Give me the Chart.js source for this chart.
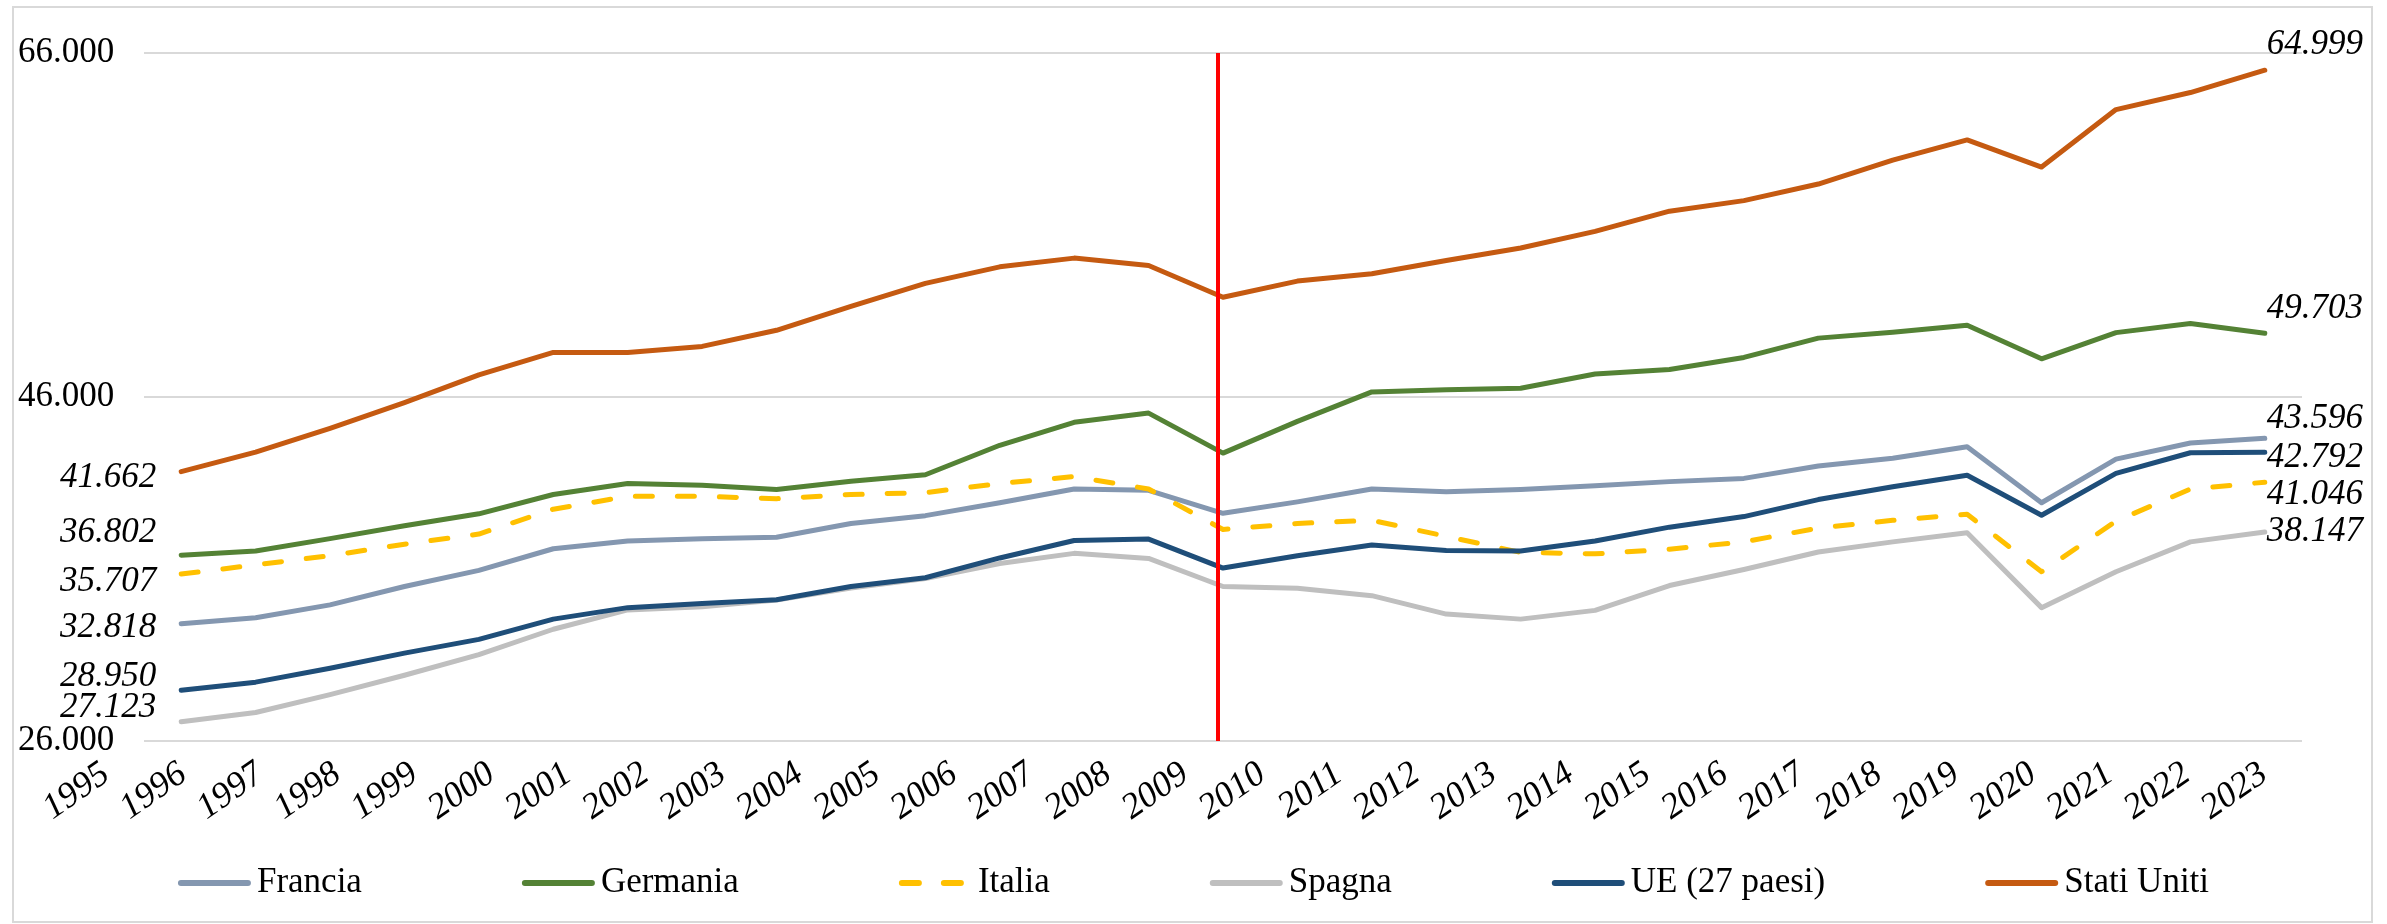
<!DOCTYPE html>
<html>
<head>
<meta charset="utf-8">
<script src="https://cdn.jsdelivr.net/npm/chart.js@4.4.1/dist/chart.umd.min.js"></script>
<style>
  html, body { margin: 0; padding: 0; background: #ffffff; }
  #wrap { width: 2387px; height: 924px; position: relative; }
</style>
</head>
<body>
<div id="wrap"><canvas id="c" width="2387" height="924"></canvas></div>
<script>
// ---------------- DATA ----------------
const years = ['1995','1996','1997','1998','1999','2000','2001','2002','2003','2004','2005','2006','2007','2008','2009','2010','2011','2012','2013','2014','2015','2016','2017','2018','2019','2020','2021','2022','2023'];
const seriesNames = ['Francia', 'Germania', 'Italia', 'Spagna', 'UE (27 paesi)', 'Stati Uniti'];
const francia    = [32818, 33166, 33914, 34984, 35920, 37176, 37631, 37765, 37845, 38647, 39102, 39850, 40652, 40572, 39240, 39904, 40652, 40492, 40626, 40840, 41080, 41267, 41989, 42444, 43112, 39850, 42390, 43326, 43596];
const germania   = [36802, 37043, 37765, 38513, 39209, 40332, 40973, 40866, 40626, 41107, 41481, 43193, 44530, 45064, 42738, 44583, 46294, 46428, 46508, 47337, 47604, 48300, 49423, 49770, 50171, 48219, 49743, 50278, 49703];
const italia     = [35707, 36241, 36775, 37444, 38032, 39476, 40225, 40225, 40091, 40332, 40439, 40973, 41374, 40652, 38300, 38647, 38834, 37898, 36963, 36882, 37150, 37578, 38380, 38834, 39182, 35840, 38781, 40652, 41046];
const spagna     = [27123, 27658, 28700, 29824, 31027, 32497, 33620, 33800, 34200, 34900, 35450, 36321, 36909, 36615, 34984, 34877, 34449, 33380, 33086, 33594, 35037, 35973, 36989, 37578, 38112, 33754, 35840, 37578, 38147];
const ue27       = [28950, 29422, 30225, 31107, 31909, 33086, 33754, 33995, 34209, 34984, 35492, 36642, 37658, 37738, 36053, 36775, 37390, 37070, 37043, 37631, 38433, 39048, 40037, 40786, 41455, 39128, 41562, 42760, 42792];
const statiUniti = [41662, 42791, 44182, 45679, 47283, 48594, 48594, 48941, 49877, 51267, 52604, 53567, 54075, 53647, 51802, 52738, 53166, 53941, 54663, 55626, 56802, 57417, 58380, 59770, 60947, 59369, 62711, 63701, 64999];
const seriesValues = [francia, germania, italia, spagna, ue27, statiUniti];
const yMin = 26000, yMax = 66000, yStep = 20000;
const markerYear = '2009';

// ---------------- STYLES ----------------
const colors = ['#8497B0', '#548235', '#FFC000', '#BFBFBF', '#1F4E79', '#C55A11'];
const dashes = [[], [], [17, 25], [], [], []];
// label nudges (px) relative to first / last point centre
const leftLabelDy  = [4, -22, 8, -14, -13, 6];
const rightLabelDy = [-20, -25, 13, 0, 6, -25];
const FONT = '"Liberation Serif", "Times New Roman", serif';

const fmt = v => String(Math.round(v)).replace(/\B(?=(\d{3})+(?!\d))/g, '.');

const framePlugin = {
  id: 'frame',
  beforeDraw(chart) {
    const ctx = chart.ctx;
    ctx.save();
    ctx.fillStyle = '#ffffff';
    ctx.fillRect(0, 0, chart.width, chart.height);
    ctx.strokeStyle = '#d9d9d9';
    ctx.lineWidth = 2;
    ctx.strokeRect(13, 7, chart.width - 28, chart.height - 9);
    ctx.restore();
  }
};

const markerPlugin = {
  id: 'marker',
  afterDatasetsDraw(chart) {
    const xs = chart.scales.x, area = chart.chartArea, ctx = chart.ctx;
    const x = xs.getPixelForValue(years.indexOf(markerYear)) - 5;
    ctx.save();
    ctx.strokeStyle = '#FF0000';
    ctx.lineWidth = 4;
    ctx.beginPath();
    ctx.moveTo(x, area.top);
    ctx.lineTo(x, area.bottom);
    ctx.stroke();
    ctx.restore();
  }
};

const valueLabelPlugin = {
  id: 'valueLabels',
  afterDatasetsDraw(chart) {
    const ctx = chart.ctx;
    ctx.save();
    ctx.font = 'italic 35px ' + FONT;
    ctx.fillStyle = '#000000';
    ctx.textBaseline = 'middle';
    chart.data.datasets.forEach((ds, i) => {
      const meta = chart.getDatasetMeta(i);
      const first = meta.data[0], last = meta.data[meta.data.length - 1];
      ctx.textAlign = 'right';
      ctx.fillText(fmt(ds.data[0]), first.x - 25, first.y + leftLabelDy[i]);
      ctx.textAlign = 'left';
      ctx.fillText(fmt(ds.data[ds.data.length - 1]), last.x + 2, last.y + rightLabelDy[i]);
    });
    ctx.restore();
  }
};

const legendPlugin = {
  id: 'customLegend',
  afterDraw(chart) {
    const ctx = chart.ctx;
    const lineLen = 73, textGap = 6, itemGap = 160;
    ctx.save();
    ctx.font = '35px ' + FONT;
    const widths = seriesNames.map(n => ctx.measureText(n).width);
    const total = widths.reduce((a, w) => a + lineLen + textGap + w, 0) + itemGap * (seriesNames.length - 1);
    let x = chart.width / 2 - total / 2;
    const y = chart.height - 41;
    ctx.textBaseline = 'middle';
    ctx.textAlign = 'left';
    seriesNames.forEach((name, i) => {
      ctx.strokeStyle = colors[i];
      ctx.lineWidth = 6;
      ctx.lineCap = 'round';
      ctx.setLineDash(dashes[i]);
      ctx.beginPath();
      ctx.moveTo(x + 3, y);
      ctx.lineTo(x + lineLen - 3, y);
      ctx.stroke();
      ctx.setLineDash([]);
      ctx.fillStyle = '#000000';
      ctx.fillText(name, x + lineLen + textGap, y);
      x += lineLen + textGap + widths[i] + itemGap;
    });
    ctx.restore();
  }
};

const datasets = seriesNames.map((name, i) => ({
  label: name,
  data: seriesValues[i],
  xAxisID: 'x',
  yAxisID: 'y',
  borderColor: colors[i],
  backgroundColor: colors[i],
  borderWidth: 5,
  borderDash: dashes[i],
  borderCapStyle: 'round',
  borderJoinStyle: 'round',
  pointRadius: 0,
  tension: 0,
  fill: false,
  order: seriesNames.length - i
}));

new Chart(document.getElementById('c'), {
  type: 'line',
  data: { labels: years, datasets },
  options: {
    responsive: false,
    animation: false,
    devicePixelRatio: 1,
    layout: { padding: { left: 18, right: 85, top: 53, bottom: 73 } },
    plugins: { legend: { display: false }, tooltip: { enabled: false } },
    scales: {
      x: { type: 'category', display: false, offset: true },
      xl: {
        type: 'linear', position: 'bottom', min: 0, max: years.length - 1,
        grid: { display: false, drawTicks: false },
        border: { display: false },
        ticks: {
          stepSize: 1, autoSkip: false, minRotation: 35, maxRotation: 35,
          labelOffset: -38, padding: 12, color: '#000000',
          font: { family: FONT, size: 36, style: 'italic' },
          callback: v => years[v]
        },
        afterFit: s => { s.height = 110; }
      },
      y: {
        min: yMin, max: yMax,
        ticks: {
          stepSize: yStep, crossAlign: 'far', padding: 0, color: '#000000',
          font: { family: FONT, size: 35 },
          callback: v => fmt(v)
        },
        grid: { color: '#d9d9d9', lineWidth: 2, drawTicks: false },
        border: { display: false },
        afterFit: s => { s.width = 126; }
      }
    }
  },
  plugins: [framePlugin, markerPlugin, valueLabelPlugin, legendPlugin]
});
</script>
</body>
</html>
